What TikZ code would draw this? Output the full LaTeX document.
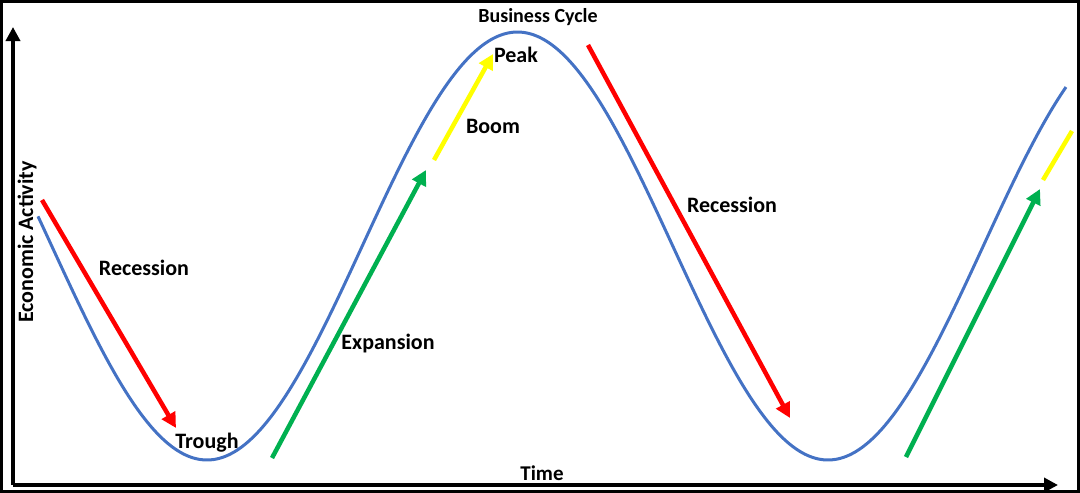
\documentclass[tikz,border=0pt]{standalone}
\usepackage{fontspec}
\setmainfont{Carlito}
\usepackage{tikz}
\usetikzlibrary{arrows.meta, positioning}
\definecolor{CurveBlue}{RGB}{68, 114, 196}
\definecolor{PhaseRed}{RGB}{255, 0, 0}
\definecolor{PhaseGreen}{RGB}{0, 176, 80}
\definecolor{PhaseYellow}{RGB}{255, 255, 0}
\tikzset{
    axisline/.style={line width=4pt, -{Triangle[length=14pt, width=14pt]}},
    phasearrow/.style={line width=4.5pt, -{Triangle[length=15pt, width=15pt]}},
    phaselabel/.style={font=\fontsize{22}{24}\selectfont\bfseries, inner sep=0pt},
    axislabel/.style={font=\fontsize{21}{23}\selectfont\bfseries, inner sep=0pt},
}

\begin{document}
\begin{tikzpicture}[x=1pt, y=-1pt]
    \useasboundingbox (0,0) rectangle (1080,493);
    % frame and axes
    \draw[line width=3pt] (1.5,1.5) rectangle (1078,491);
    \coordinate (origin) at (13,485);
    \coordinate (ytop) at (13,27);
    \coordinate (xend) at (1058,485);
    \draw[axisline] (origin) -- (ytop);
    \draw[axisline] (origin) -- (xend);
    \node[axislabel, font=\fontsize{20}{22}\selectfont\bfseries] (title) at (538,17) {Business Cycle};
    \node[axislabel, font=\fontsize{22}{24}\selectfont\bfseries, rotate=90] (ylabel) at (27,242) {Economic Activity};
    \node[axislabel] (xlabel) at (542,473) {Time};

    % the cycle
    \draw[CurveBlue, line width=3pt, domain=38:1066, samples=200, smooth]
        plot (\x, {246 + 214*cos((\x-207)/621*360)});

    % phases
    \coordinate (rec1a) at (42,200);   \coordinate (rec1b) at (176,428);
    \coordinate (exp1a) at (272,458);  \coordinate (exp1b) at (426,170);
    \coordinate (boom1a) at (434,160); \coordinate (boom1b) at (493,54);
    \coordinate (rec2a) at (588,45);   \coordinate (rec2b) at (790,418);
    \coordinate (exp2a) at (906,457);  \coordinate (exp2b) at (1040,189);
    \coordinate (boom2a) at (1043,180); \coordinate (boom2b) at (1072,131);
    \draw[phasearrow, PhaseRed] (rec1a) -- (rec1b);
    \draw[phasearrow, PhaseGreen] (exp1a) -- (exp1b);
    \draw[phasearrow, PhaseYellow] (boom1a) -- (boom1b);
    \draw[phasearrow, PhaseRed] (rec2a) -- (rec2b);
    \draw[phasearrow, PhaseGreen] (exp2a) -- (exp2b);
    \draw[line width=4.5pt, PhaseYellow] (boom2a) -- (boom2b);

    \node[phaselabel] (recession1) at (144,268) {Recession};
    \node[phaselabel] (trough) at (207,443) {Trough};
    \node[phaselabel] (expansion) at (388,344) {Expansion};
    \node[phaselabel] (boom) at (493,126) {Boom};
    \node[phaselabel] (peak) at (516,55) {Peak};
    \node[phaselabel] (recession2) at (732,205) {Recession};
\end{tikzpicture}
\end{document}
